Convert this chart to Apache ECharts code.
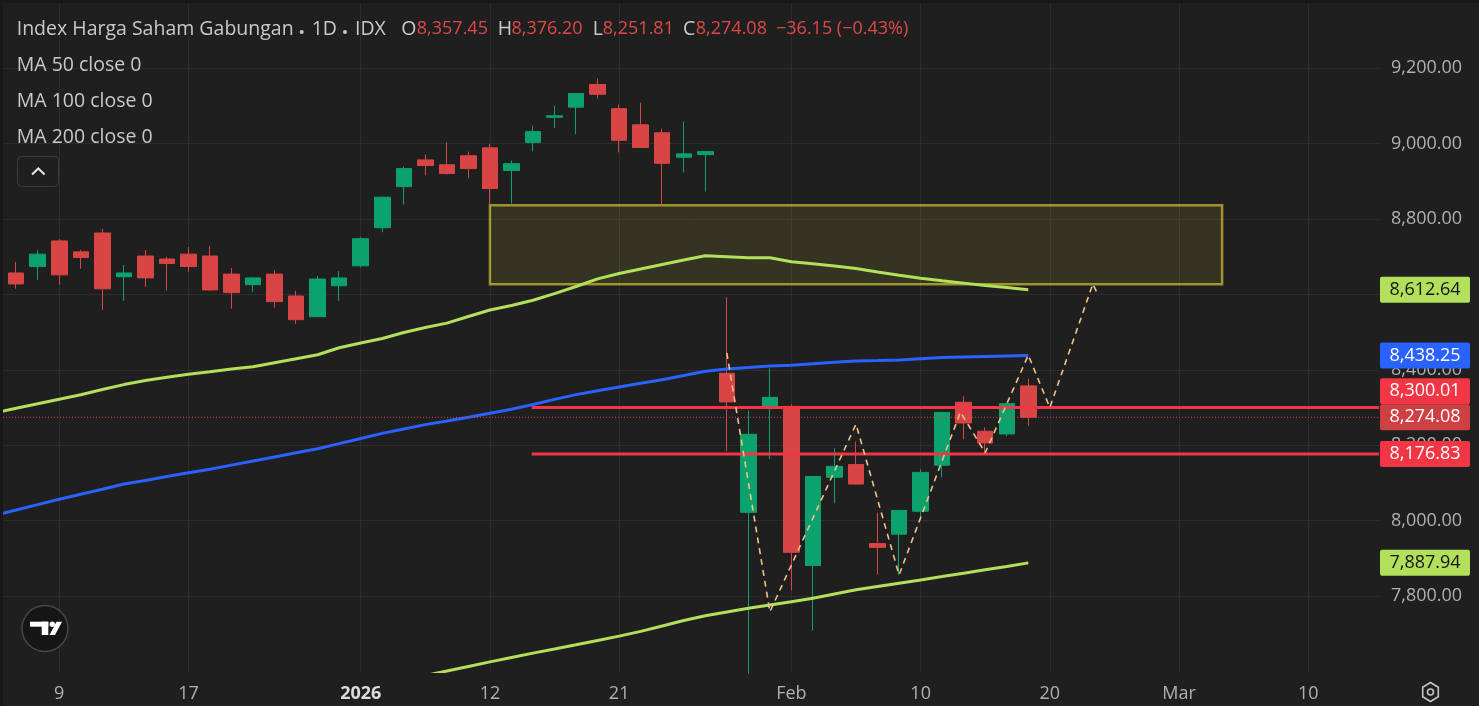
<!DOCTYPE html>
<html><head><meta charset="utf-8">
<script src="https://cdn.jsdelivr.net/npm/echarts@6/dist/echarts.min.js"></script>
<style>html,body{margin:0;padding:0;background:#1f1f1f;overflow:hidden}#c{width:1479px;height:706px}</style>
</head><body><div id="c"></div>
<script>
// ---------- DATA ----------
const dates = ['2025-12-05','2025-12-08','2025-12-09','2025-12-10','2025-12-11','2025-12-12','2025-12-15','2025-12-16','2025-12-17','2025-12-18','2025-12-19','2025-12-22','2025-12-23','2025-12-24','2025-12-29','2025-12-30','2026-01-02','2026-01-05','2026-01-06','2026-01-07','2026-01-08','2026-01-09','2026-01-12','2026-01-13','2026-01-14','2026-01-15','2026-01-19','2026-01-20','2026-01-21','2026-01-22','2026-01-23','2026-01-26','2026-01-27','2026-01-28','2026-01-29','2026-01-30','2026-02-02','2026-02-03','2026-02-04','2026-02-05','2026-02-06','2026-02-09','2026-02-10','2026-02-11','2026-02-12','2026-02-13','2026-02-18','2026-02-19'];
const opens  = [8657,8674,8742,8713,8763,8647,8702,8694,8707,8702,8654,8626,8654,8596,8541,8623,8676,8777,8886,8957,8944,8968,8989,8929,9003,9070,9097,9157,9093,9050,9029,8964,8971,8391,8022,8304,8303,7881,8115,8149,7939,7964,8025,8147,8314,8237,8230,8357.45];
const highs  = [8686,8718,8747,8718,8774,8678,8718,8700,8726,8729,8670,8646,8665,8610,8649,8662,8752,8860,8939,8971,9003,8979,9000,8955,9048,9101,9134,9173,9104,9109,9040,9059,8980,8593,8292,8404,8309,8118,8192,8210,8021,8027,8136,8288,8330,8247,8312,8376.20];
const lows   = [8615,8639,8626,8668,8559,8583,8620,8610,8660,8610,8562,8607,8565,8522,8540,8583,8672,8765,8839,8916,8918,8908,8838,8841,8980,9041,9025,9120,8977,8989,8836,8924,8873,8184,7594,8163,7815,7708,8046,8096,7857,7856,8006,8115,8216,8178,8224,8251.81];
const closes = [8628,8707,8652,8698,8615,8657,8644,8682,8674,8612,8605,8644,8581,8533,8641,8644,8748,8858,8934,8942,8921,8934,8881,8947,9032,9074,9133,9131,9009,8990,8948,8973,8979,8315,8229,8327,7916,8117,8144,8097,7929,8027,8128,8287,8259,8206,8310.23,8274.08];

const ma50Start = -1;
const ma50 = [8285.5,8298.2,8310.2,8322.1,8333.8,8347.9,8360.9,8371.5,8380.2,8388.4,8394.8,8402,8408.3,8419,8429.6,8440.2,8458.5,8471,8483.2,8499.1,8512.3,8524,8541.5,8558.8,8570.7,8584.5,8602.3,8621.1,8641.3,8655.6,8667.5,8679.5,8691.4,8702.8,8700.2,8697.5,8697.5,8686.9,8681.6,8675.8,8668.6,8659.6,8650.8,8642.9,8636.2,8630.1,8624,8618.5,8612.64];
const ma100Start = -1;
const ma100 = [8014.1,8028.2,8042.5,8056.8,8069.8,8083.1,8097.2,8106.7,8117,8127.1,8136.1,8147.3,8158.2,8169,8179.9,8190.8,8204.3,8217.9,8231.4,8243.1,8254.7,8264.3,8274.4,8285,8295.6,8308.1,8321.6,8334.3,8344.4,8354.7,8364.3,8373.9,8385,8396.4,8402.2,8406.2,8410.5,8412.1,8416,8420,8423.7,8424.8,8426.1,8429.3,8432.5,8434.1,8435.7,8437,8438.25];
const ma200Start = 18;
const ma200 = [7577.2,7589.1,7601,7613.2,7625.2,7637.1,7648.5,7659.4,7670.5,7682.2,7693.6,7706.1,7720.4,7735,7747.5,7757.6,7767.6,7776.1,7784.9,7793.9,7805.3,7816.5,7825.2,7834,7842.7,7851.5,7860.5,7869.5,7878.3,7887.94];

const zoneBox = [[22, 8837], [56, 8627]];
const supportLevels = [8300.01, 8176.83];
const rayStart = 23.94;
const pathPoints = [[33,8445],[35,7758],[39,8256],[41,7856],[43.85,8288],[45,8180],[47,8439],[48,8300],[50,8628],[50.2,8603]];

const xTickIdx  = [2, 8, 16, 22, 28, 36, 42, 48, 54, 60];
const xTickText = ['9','17','2026','12','21','Feb','10','20','Mar','10'];
const yTicks = [7800, 8000, 8200, 8400, 8600, 8800, 9000, 9200];

// ---------- STYLE ----------
const FONT = "'Open Sans','Noto Sans',sans-serif";
const BG = '#1f1f1f', GRID = '#2d2d2d';
const UP = '#0ca26d', DOWN = '#d94545';
const LIME = '#b2e05a', BLUE = '#2962ff', RAY = '#f23645';
const TXT = '#c8c9cc', AXT = '#b0b1b4', VALRED = '#e04848';
const X_MIN = -0.752, X_MAX = 63.286;

const fmt = v => v.toLocaleString('en-US', {minimumFractionDigits: 2, maximumFractionDigits: 2});
const pts = (arr, start) => arr.map((v, i) => [start + i, v]);
const candleData = dates.map((d, i) => [i, opens[i], closes[i], lows[i], highs[i]]);
const last = closes.length - 1;

const chart = echarts.init(document.getElementById('c'), null, {renderer: 'canvas', width: 1479, height: 706});

const lineBase = {type: 'line', symbol: 'none', silent: true, clip: true, animation: false, emphasis: {disabled: true}};

chart.setOption({
  backgroundColor: BG,
  animation: false,
  grid: {left: 0, right: 100, top: 0, bottom: 34.6},
  xAxis: {
    type: 'value', min: X_MIN, max: X_MAX,
    axisLine: {show: false},
    axisTick: {show: false, customValues: xTickIdx},
    axisLabel: {
      customValues: xTickIdx, color: AXT, fontSize: 18, fontFamily: FONT, margin: 12, lineHeight: 20,
      formatter: v => { const t = xTickText[xTickIdx.indexOf(Math.round(v))] || ''; return /^\d{4}$/.test(t) ? '{yr|' + t + '}' : t; },
      rich: {yr: {fontWeight: 'bold', color: '#dcdcdc', fontSize: 18, fontFamily: FONT, lineHeight: 20}}
    },
    splitLine: {show: true, lineStyle: {color: GRID, width: 1}}
  },
  yAxis: {
    type: 'value', position: 'right', min: 7600, max: 9381.2,
    axisLine: {show: false},
    axisTick: {show: false, customValues: yTicks},
    axisLabel: {customValues: yTicks, formatter: fmt, color: AXT, fontSize: 18, fontFamily: FONT, align: 'left', margin: 12},
    splitLine: {show: true, lineStyle: {color: GRID, width: 1}}
  },
  series: [
    {
      type: 'candlestick', name: 'IHSG', z: 2, silent: true, clip: true,
      dimensions: ['idx', 'open', 'close', 'lowest', 'highest'],
      encode: {x: 'idx', y: ['open', 'close', 'lowest', 'highest']},
      data: candleData, barWidth: 16,
      itemStyle: {color: UP, color0: DOWN, borderColor: UP, borderColor0: DOWN, borderWidth: 1},
      markArea: {
        silent: true,
        itemStyle: {color: 'rgba(255,235,59,0.10)', borderColor: 'rgba(255,235,59,0.55)', borderWidth: 2.5},
        data: [[{coord: zoneBox[0]}, {coord: zoneBox[1]}]]
      }
    },
    Object.assign({}, lineBase, {name: 'MA 50', z: 3, data: pts(ma50, ma50Start), lineStyle: {color: LIME, width: 3}}),
    Object.assign({}, lineBase, {name: 'MA 100', z: 3, data: pts(ma100, ma100Start), lineStyle: {color: BLUE, width: 3}}),
    Object.assign({}, lineBase, {name: 'MA 200', z: 3, data: pts(ma200, ma200Start), lineStyle: {color: LIME, width: 3}}),
    ...supportLevels.map(v => Object.assign({}, lineBase, {z: 3, data: [[rayStart, v], [X_MAX, v]], lineStyle: {color: RAY, width: 3}})),
    Object.assign({}, lineBase, {z: 3, data: [[X_MIN, closes[last]], [X_MAX, closes[last]]], lineStyle: {color: DOWN, width: 1, type: [1, 2]}}),
    Object.assign({}, lineBase, {z: 4, data: pathPoints, lineStyle: {color: '#f2c285', width: 1.6, type: [6, 5]}})
  ]
});

// ---------- overlays (positions from the chart's own scale) ----------
const py = v => chart.convertToPixel({yAxisIndex: 0}, v);
const g = [];
const txt = (t, x, y, size, color, opts) => g.push(Object.assign({type: 'text', z: 100, silent: true,
  style: {text: t, x: x, y: y, fill: color, font: (opts && opts.bold ? 'bold ' : '') + size + 'px ' + FONT,
    textAlign: (opts && opts.align) || 'left', align: (opts && opts.align) || 'left', textVerticalAlign: 'middle', verticalAlign: 'middle'}}));

// frame strips
g.push({type: 'rect', z: 90, silent: true, shape: {x: 0, y: 0, width: 1479, height: 3}, style: {fill: '#181818'}});
g.push({type: 'rect', z: 90, silent: true, shape: {x: 0, y: 0, width: 3, height: 706}, style: {fill: '#181818'}});

// header legend
const HY = 29.3;
txt('Index Harga Saham Gabungan', 16.7, HY, 19.5, TXT);
g.push({type: 'circle', z: 100, silent: true, shape: {cx: 301.7, cy: 32, r: 2}, style: {fill: TXT}});
txt('1D', 311.7, HY, 19.5, TXT);
g.push({type: 'circle', z: 100, silent: true, shape: {cx: 345, cy: 32, r: 2}, style: {fill: TXT}});
txt('IDX', 355, HY, 19.5, TXT);
const chg = closes[last] - closes[last - 1];
const pct = Math.trunc(chg / closes[last - 1] * 10000) / 100;
const sgn = n => (n < 0 ? '\u2212' : '+') + Math.abs(n).toFixed(2);
[['O', opens[last], 401.3, 416.8], ['H', highs[last], 497.8, 511.5], ['L', lows[last], 592.8, 602.8], ['C', closes[last], 683, 695.8]]
  .forEach(([k, v, kx, vx]) => { txt(k, kx, HY, 19.5, TXT); txt(fmt(v), vx, HY, 18, VALRED); });
txt(sgn(chg) + ' (' + sgn(pct) + '%)', 776, HY, 18, VALRED);
txt('MA 50 close 0', 16.7, 65.3, 19.5, TXT);
txt('MA 100 close 0', 16.7, 101.6, 19.5, TXT);
txt('MA 200 close 0', 16.7, 137.6, 19.5, TXT);

// collapse button
g.push({type: 'rect', z: 100, silent: true, shape: {x: 17.5, y: 156.5, width: 41, height: 30, r: 4}, style: {fill: 'rgba(0,0,0,0)', stroke: '#3c3c3c', lineWidth: 1}});
g.push({type: 'polyline', z: 100, silent: true, shape: {points: [[32, 174.5], [38.3, 168.5], [44.6, 174.5]]}, style: {stroke: '#e6e6e6', lineWidth: 2, fill: null}});

// TradingView logo
g.push({type: 'circle', z: 100, silent: true, shape: {cx: 45, cy: 628.5, r: 23}, style: {fill: '#161616', stroke: '#474747', lineWidth: 1.5}});
g.push({type: 'rect', z: 101, silent: true, shape: {x: 30, y: 621.7, width: 18.3, height: 5}, style: {fill: '#ffffff'}});
g.push({type: 'rect', z: 101, silent: true, shape: {x: 41.7, y: 621.7, width: 6.6, height: 13.3}, style: {fill: '#ffffff'}});
g.push({type: 'circle', z: 101, silent: true, shape: {cx: 52.3, cy: 624.3, r: 2.7}, style: {fill: '#ffffff'}});
g.push({type: 'polygon', z: 101, silent: true, shape: {points: [[56.5, 621.7], [62, 621.7], [55, 635], [49.5, 635]]}, style: {fill: '#ffffff'}});

// settings (gear) icon
const hex = [];
for (let k = 0; k < 6; k++) { const a = (-90 + 60 * k) * Math.PI / 180; hex.push([1430.5 + 9 * Math.cos(a), 692 + 9.5 * Math.sin(a)]); }
g.push({type: 'polygon', z: 100, silent: true, shape: {points: hex}, style: {fill: 'rgba(0,0,0,0)', stroke: '#c4c4c4', lineWidth: 1.6}});
g.push({type: 'circle', z: 100, silent: true, shape: {cx: 1430.5, cy: 692, r: 3}, style: {fill: 'rgba(0,0,0,0)', stroke: '#c4c4c4', lineWidth: 1.6}});

// price scale labels
const BOX_H = 26, BOX_X = 1380, BOX_W = 90;
const lastY = py(closes[last]);
const tags = [
  {v: ma50[ma50.length - 1], bg: LIME, fg: '#151515'},
  {v: ma100[ma100.length - 1], bg: BLUE, fg: '#ffffff'},
  {v: supportLevels[0], bg: RAY, fg: '#ffffff', above: true},
  {v: closes[last], bg: '#cf4044', fg: '#ffffff'},
  {v: supportLevels[1], bg: RAY, fg: '#ffffff'},
  {v: ma200[ma200.length - 1], bg: LIME, fg: '#151515'}
];
tags.forEach(t => {
  let cy = py(t.v);
  if (t.above) cy = Math.min(cy, lastY - BOX_H);
  g.push({type: 'rect', z: 110, silent: true, shape: {x: BOX_X, y: cy - BOX_H / 2, width: BOX_W, height: BOX_H, r: 2}, style: {fill: t.bg}});
  g.push({type: 'text', z: 111, silent: true, style: {text: fmt(t.v), x: BOX_X + BOX_W / 2, y: cy, fill: t.fg, font: '18px ' + FONT,
    textAlign: 'center', align: 'center', textVerticalAlign: 'middle', verticalAlign: 'middle'}});
});

chart.setOption({graphic: g});
</script>
</body></html>
